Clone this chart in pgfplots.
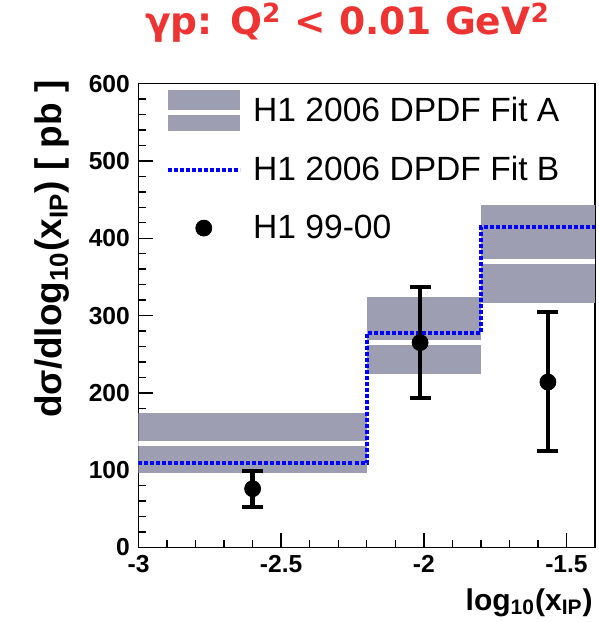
\documentclass[border=0pt]{standalone}
\usepackage{fontspec}
\setmainfont{Liberation Sans}
\newfontfamily\titlefont{DejaVu Sans}
\usepackage{pgfplots}
\pgfplotsset{compat=1.18}
\definecolor{bandcol}{RGB}{158,158,178}
\definecolor{titlered}{RGB}{238,51,51}

\begin{document}
\begin{tikzpicture}
\begin{axis}[
  name=ax,
  scale only axis, width=228.25pt, height=231.95pt,
  xmin=-3, xmax=-1.4, ymin=0, ymax=600,
  xtick={-3,-2.5,-2,-1.5}, ytick={0,100,200,300,400,500,600},
  minor x tick num=4, minor y tick num=4,
  tick align=inside, xtick pos=left, ytick pos=left,
  major tick length=7pt, minor tick length=3.7pt,
  tick style={black, line width=0.7pt},
  axis line style={line width=0.9pt, black},
  /pgf/number format/assume math mode=true,
  ticklabel style={font=\bfseries\fontsize{12.3}{14}\selectfont},
  xticklabel style={yshift=-0.5pt},
  yticklabel style={xshift=-0.8pt},
  xlabel={\bfseries\fontsize{15}{17}\selectfont log\textsubscript{10}(x\textsubscript{IP})},
  x label style={at={(rel axis cs:1,0)}, anchor=base east, inner sep=0pt, yshift=-31.25pt, xshift=-1pt},
  ylabel={\bfseries\fontsize{18.5}{20}\selectfont dσ/dlog\textsubscript{10}(x\textsubscript{IP}) [ pb ]},
  y label style={at={(rel axis cs:0,1)}, anchor=base east, inner sep=0pt, xshift=1.8pt, yshift=38.4pt},
  title={γp: Q\textsuperscript{2} < 0.01 GeV\textsuperscript{2}},
  title style={at={(rel axis cs:0.5,1)}, anchor=base, inner sep=0pt, yshift=18.3pt, xshift=-9.6pt,
    font=\titlefont\bfseries\fontsize{18.8}{20}\selectfont, text=titlered},
  legend style={at={(rel axis cs:0,1)}, anchor=north west, xshift=13.25pt, yshift=-3.2pt,
    draw=none, fill=none, inner sep=0pt, nodes={inner sep=0pt},
    column sep=5.5pt, row sep=8.8pt, font=\fontsize{16.8}{19}\selectfont},
  legend cell align=left,
]
% H1 2006 DPDF Fit A: uncertainty bands
\addplot[fill=bandcol, draw=none,
  legend image code/.code={\fill[bandcol] (0pt,-10.25pt) rectangle (36pt,10.25pt);
    \draw[white, line width=2.4pt] (0pt,-0.6pt) -- (36pt,-0.6pt);}]
  coordinates {(-3,96) (-2.2,96) (-2.2,174) (-3,174)} -- cycle;
\addlegendentry{H1 2006 DPDF Fit A}
\addplot[fill=bandcol, draw=none, forget plot]
  coordinates {(-2.2,224) (-1.8,224) (-1.8,324) (-2.2,324)} -- cycle;
\addplot[fill=bandcol, draw=none, forget plot]
  coordinates {(-1.8,316) (-1.4,316) (-1.4,443) (-1.8,443)} -- cycle;
% Fit A central values
\addplot[white, line width=2.4pt, forget plot] coordinates {(-3,134) (-2.2,134)};
\addplot[white, line width=2.4pt, forget plot] coordinates {(-2.2,265) (-1.8,265)};
\addplot[white, line width=2.4pt, forget plot] coordinates {(-1.8,370) (-1.4,370)};
% Fit B
\addplot[blue, line width=2pt, dash pattern=on 2pt off 1pt, const plot,
  legend image code/.code={\path[draw=none, fill=none] (0pt,-10.25pt) rectangle (36pt,10.25pt);
    \draw[blue, line width=2pt, dash pattern=on 2pt off 1pt] (0pt,0pt) -- (36pt,0pt);}]
  coordinates {(-3,108.7) (-2.2,277) (-1.8,415) (-1.4,415)};
\addlegendentry{H1 2006 DPDF Fit B}
% H1 99-00 data
\addplot[black, only marks, mark=*, mark size=4pt, mark options={fill=black},
  legend image code/.code={\path[draw=none, fill=none] (0pt,-10.25pt) rectangle (36pt,10.25pt);
    \fill[black] (18pt,0pt) circle (4pt);},
  error bars/.cd, y dir=both, y explicit,
  error bar style={line width=2.2pt, black},
  error mark options={rotate=90, line width=2pt, mark size=5.25pt, black}]
  coordinates {
    (-2.6,76) += (0,23) -= (0,23)
    (-2.013,265) += (0,72) -= (0,71)
    (-1.565,214) += (0,91) -= (0,89.5)
  };
\addlegendentry{H1 99-00}
\end{axis}
\pgfresetboundingbox
\useasboundingbox ([shift={(-69.25pt,-37.25pt)}]ax.south west) rectangle ([shift={(2pt,41.8pt)}]ax.north east);
\end{tikzpicture}
\end{document}
